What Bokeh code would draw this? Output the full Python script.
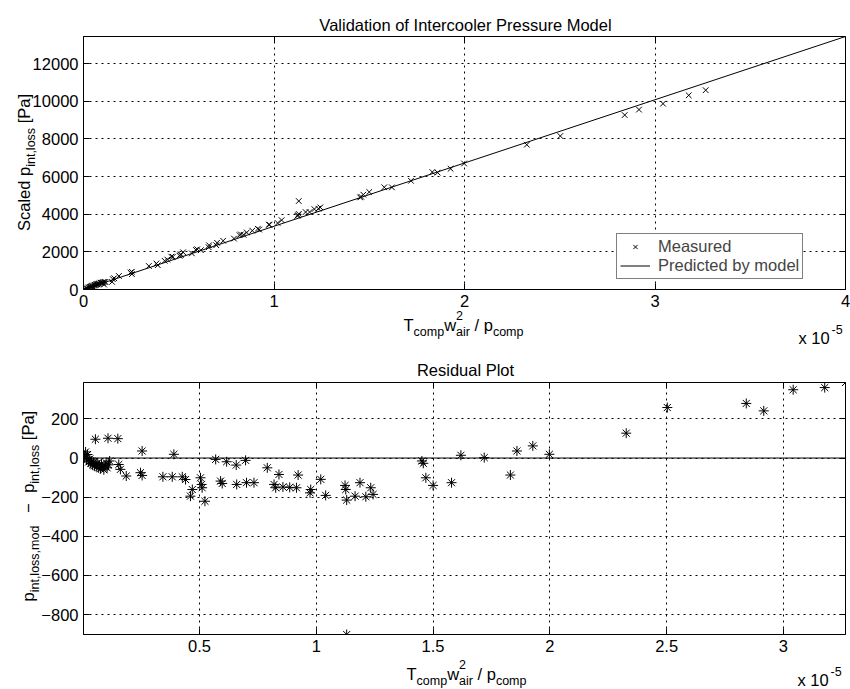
import math
from bokeh.plotting import figure
from bokeh.models import (Label, Legend, LegendItem, LinearAxis, FixedTicker,
                          Span, Range1d, GridBox)
from bokeh.embed import file_html
from bokeh.resources import INLINE

# ---------------- data (x in units of 1e-5) ----------------
x_e5 = [0.003, 0.008, 0.012, 0.016, 0.020, 0.025, 0.030, 0.034, 0.038, 0.042,
        0.046, 0.050, 0.054, 0.056, 0.060, 0.064, 0.068, 0.072, 0.076, 0.080,
        0.085, 0.090, 0.095, 0.100, 0.104, 0.108, 0.110, 0.115, 0.150, 0.154,
        0.161, 0.186, 0.247, 0.254, 0.254, 0.343, 0.383, 0.390, 0.426, 0.440,
        0.461, 0.469, 0.504, 0.509, 0.511, 0.523, 0.569, 0.590, 0.597, 0.616,
        0.657, 0.659, 0.697, 0.701, 0.733, 0.790, 0.819, 0.826, 0.840, 0.857,
        0.886, 0.915, 0.922, 0.973, 0.976, 1.019, 1.040, 1.123, 1.126, 1.130,
        1.130, 1.166, 1.187, 1.212, 1.233, 1.243, 1.452, 1.458, 1.469, 1.500,
        1.579, 1.619, 1.719, 1.831, 1.859, 1.927, 1.998, 2.327, 2.503, 2.841,
        2.916, 3.042, 3.177, 3.266]

measured_pa = [2, 22, 9, 64, 49, 104, 106, 142, 143, 176,
               177, 208, 85, 218, 247, 240, 278, 280, 310, 299,
               331, 362, 359, 361, 399, 262, 405, 401, 405, 550,
               599, 717, 905, 817, 942, 1249, 1383, 1291, 1527, 1588,
               1744, 1737, 1794, 1845, 1869, 1978, 1919, 2100, 2136, 2089,
               2244, 2349, 2354, 2481, 2589, 2704, 2887, 2927, 2906, 3028,
               3127, 3226, 3185, 3447, 3440, 3533, 3685, 3913, 3944, 4699,
               4012, 4113, 4114, 4270, 4295, 4362, 4894, 4926, 5037, 5180,
               5431, 5426, 5774, 6239, 6210, 6413, 6694, 7692, 8152, 9267,
               9557, 9872, 10315, 10588]

residual_pa = [8, 5, 31, -10, 18, -20, -5, -28, -15, -35,
               -22, -40, 96, -30, -45, -25, -50, -38, -55, -30,
               -45, -60, -40, -25, -50, 101, -35, -15, 99, -33,
               -58, -92, -75, 36, -89, -96, -96, 19, -96, -110,
               -195, -161, -101, -135, -152, -221, -7, -118, -130, -19,
               -36, -135, -12, -126, -126, -50, -135, -152, -84, -148,
               -150, -152, -87, -178, -161, -109, -191, -140, -161, -902,
               -215, -195, -126, -198, -152, -186, -15, -27, -101, -140,
               -126, 14, 2, -87, 36, 62, 19, 127, 258, 279,
               241, 349, 360, 386]

model_x = [0.0, 4.0]
model_y = [0.0, 13440.0]

top_xticks = [0, 1, 2, 3, 4]
top_yticks = [0, 2000, 4000, 6000, 8000, 10000, 12000]
bot_xticks = [0.5, 1, 1.5, 2, 2.5, 3]
bot_xlabels = ["0.5", "1", "1.5", "2", "2.5", "3"]
bot_yticks = [-800, -600, -400, -200, 0, 200]

FONT = "Liberation Sans"
M = 16.5   # main font size px
S = 12.5   # sub/superscript size px

# Arial/Liberation Sans advance widths (per 1000 em)
W = {' ': 278, ',': 278, '/': 278, '[': 278, ']': 278, '-': 333, '\u2212': 584,
     'x': 500, 'a': 556, 'b': 556, 'c': 500, 'd': 556, 'e': 556, 'f': 278,
     'g': 556, 'i': 222, 'l': 222, 'm': 833, 'n': 556, 'o': 556, 'p': 556,
     'r': 333, 's': 500, 't': 278, 'u': 556, 'w': 722, 'y': 500,
     'P': 667, 'T': 611, 'S': 667, 'V': 667, 'M': 833, 'R': 722, 'I': 278}


def tw(text, size):
    return sum(W.get(ch, 556) for ch in text) * size / 1000.0


# overlay figure: data coordinates == page pixels (y downwards)
ov = figure(width=850, height=689, output_backend="svg", toolbar_location=None,
            x_range=Range1d(0, 850), y_range=Range1d(689, 0),
            x_axis_location=None, y_axis_location=None,
            min_border=0, min_border_left=0, min_border_right=0,
            min_border_top=0, min_border_bottom=0)
if "frame_align" in ov.properties():
    ov.frame_align = False
ov.grid.visible = False
ov.outline_line_color = None
ov.background_fill_alpha = 0
ov.border_fill_alpha = 0


def text_at(x, y, text, size, angle=0.0, align="left"):
    ov.add_layout(Label(x=x, y=y, text=text, angle=angle, text_align=align,
                        text_baseline="alphabetic", text_font=FONT,
                        text_font_size=f"{size}px", text_color="black"))


def rich(pieces, start, base, vertical=False):
    """pieces: (text, size, shift_up, advance, extra_gap_before)"""
    pos = start
    for text, size, up, adv, gap in pieces:
        lead = tw(text[:len(text) - len(text.lstrip())], size) + gap
        body = text.strip()
        if not vertical:
            text_at(pos + lead, base - up, body, size)
            if adv:
                pos += tw(text, size) + gap
        else:
            text_at(base - up, pos - lead, body, size, angle=math.pi / 2)
            if adv:
                pos -= tw(text, size) + gap


def total_w(pieces):
    return sum(tw(t, s) + g for t, s, u, a, g in pieces if a)


def style(p, xt, yt):
    p.outline_line_color = "black"
    p.outline_line_width = 1
    p.background_fill_color = "white"
    p.border_fill_color = "white"
    p.xaxis.ticker = FixedTicker(ticks=xt)
    p.yaxis.ticker = FixedTicker(ticks=yt)
    for ax in (p.xaxis[0], p.yaxis[0]):
        ax.major_tick_in = 6
        ax.major_tick_out = 0
        ax.minor_tick_line_color = None
        ax.axis_line_color = "black"
        ax.major_tick_line_color = "black"
        ax.major_label_text_font = FONT
        ax.major_label_text_font_size = f"{M}px"
        ax.major_label_text_color = "black"
    p.xaxis.major_label_standoff = 5
    p.yaxis.major_label_standoff = 5
    for g in (p.xgrid[0], p.ygrid[0]):
        g.grid_line_color = "black"
        g.grid_line_dash = "2 4"
        g.grid_line_width = 1
    for side, tk in (("right", yt), ("above", xt)):
        ax = LinearAxis(ticker=FixedTicker(ticks=tk), major_tick_in=6,
                        major_tick_out=0, minor_tick_line_color=None,
                        axis_line_color=None, major_label_text_font_size="1px",
                        major_label_text_color=None, major_label_standoff=0)
        p.add_layout(ax, side)


# ---------------- top plot ----------------
T_H = 340
p1 = figure(width=850, height=T_H, output_backend="svg", toolbar_location=None,
            x_range=Range1d(0, 4), y_range=Range1d(0, 13440),
            min_border_left=83, min_border_right=5, min_border_top=36,
            min_border_bottom=T_H - 289)
style(p1, top_xticks, top_yticks)

r_meas = p1.scatter(x_e5, measured_pa, marker="x", size=8, line_color="black",
                    line_width=1)
r_mod = p1.line(model_x, model_y, line_color="black", line_width=1)

leg = Legend(items=[LegendItem(label="Measured", renderers=[r_meas]),
                    LegendItem(label="Predicted by model", renderers=[r_mod])],
             location=(533, 10), border_line_color="black", border_line_width=1,
             background_fill_color="white", background_fill_alpha=1.0,
             label_text_font=FONT, label_text_font_size=f"{M}px",
             glyph_width=30, glyph_height=15, label_height=15, padding=3,
             spacing=0, margin=0, label_standoff=8)
p1.add_layout(leg)

# ---------------- bottom plot ----------------
B_H = 349
p2 = figure(width=850, height=B_H, output_backend="svg", toolbar_location=None,
            x_range=Range1d(0.003, 3.266), y_range=Range1d(-902, 386),
            min_border_left=83, min_border_right=5, min_border_top=42,
            min_border_bottom=B_H - 294)
style(p2, bot_xticks, bot_yticks)
p2.xaxis.major_label_overrides = dict(zip(bot_xticks, bot_xlabels))

p2.add_layout(Span(location=0, dimension="width", line_color="black",
                   line_width=1))
p2.scatter(x_e5, residual_pa, marker="asterisk", size=10, line_color="black",
           line_width=1)

# ---------------- texts (page pixel coordinates) ----------------
text_at(465, 24, "Validation of Intercooler Pressure Model", M, align="center")
text_at(465, 369, "Residual Plot", M, align="center")

xl = [("T", M, 0, True, 0), ("comp", S, -7, True, 0), ("w", M, 0, True, 0),
      ("2", S, 9, False, 0), ("air", S, -7, True, 0), (" / ", M, 0, True, 0),
      ("p", M, 0, True, 0), ("comp", S, -7, True, 0)]
rich(xl, 463 - total_w(xl) / 2, 324)
rich(xl, 466 - total_w(xl) / 2, 673)

text_at(798, 337, "x 10", M)
text_at(831, 329, "-5", S)
text_at(797, 679, "x 10", M)
text_at(830, 671, "-5", S)

yl1 = [("Scaled p", M, 0, True, 0), ("int,loss", S, -7, True, 0),
       (" [Pa]", M, 0, True, 0)]
rich(yl1, 162 + total_w(yl1) / 2, 23, vertical=True)

yl2 = [("p", M, 0, True, 0), ("int,loss,mod", S, -7, True, 0),
       (" \u2212", M, 0, True, 8), (" p", M, 0, True, 6),
       ("int,loss", S, -7, True, 0), (" [Pa]", M, 0, True, 0)]
rich(yl2, 601, 27, vertical=True)

layout = GridBox(children=[(p1, 0, 0), (p2, 1, 0), (ov, 0, 0, 2, 1)])
open("out.html", "w").write(file_html(layout, INLINE))
